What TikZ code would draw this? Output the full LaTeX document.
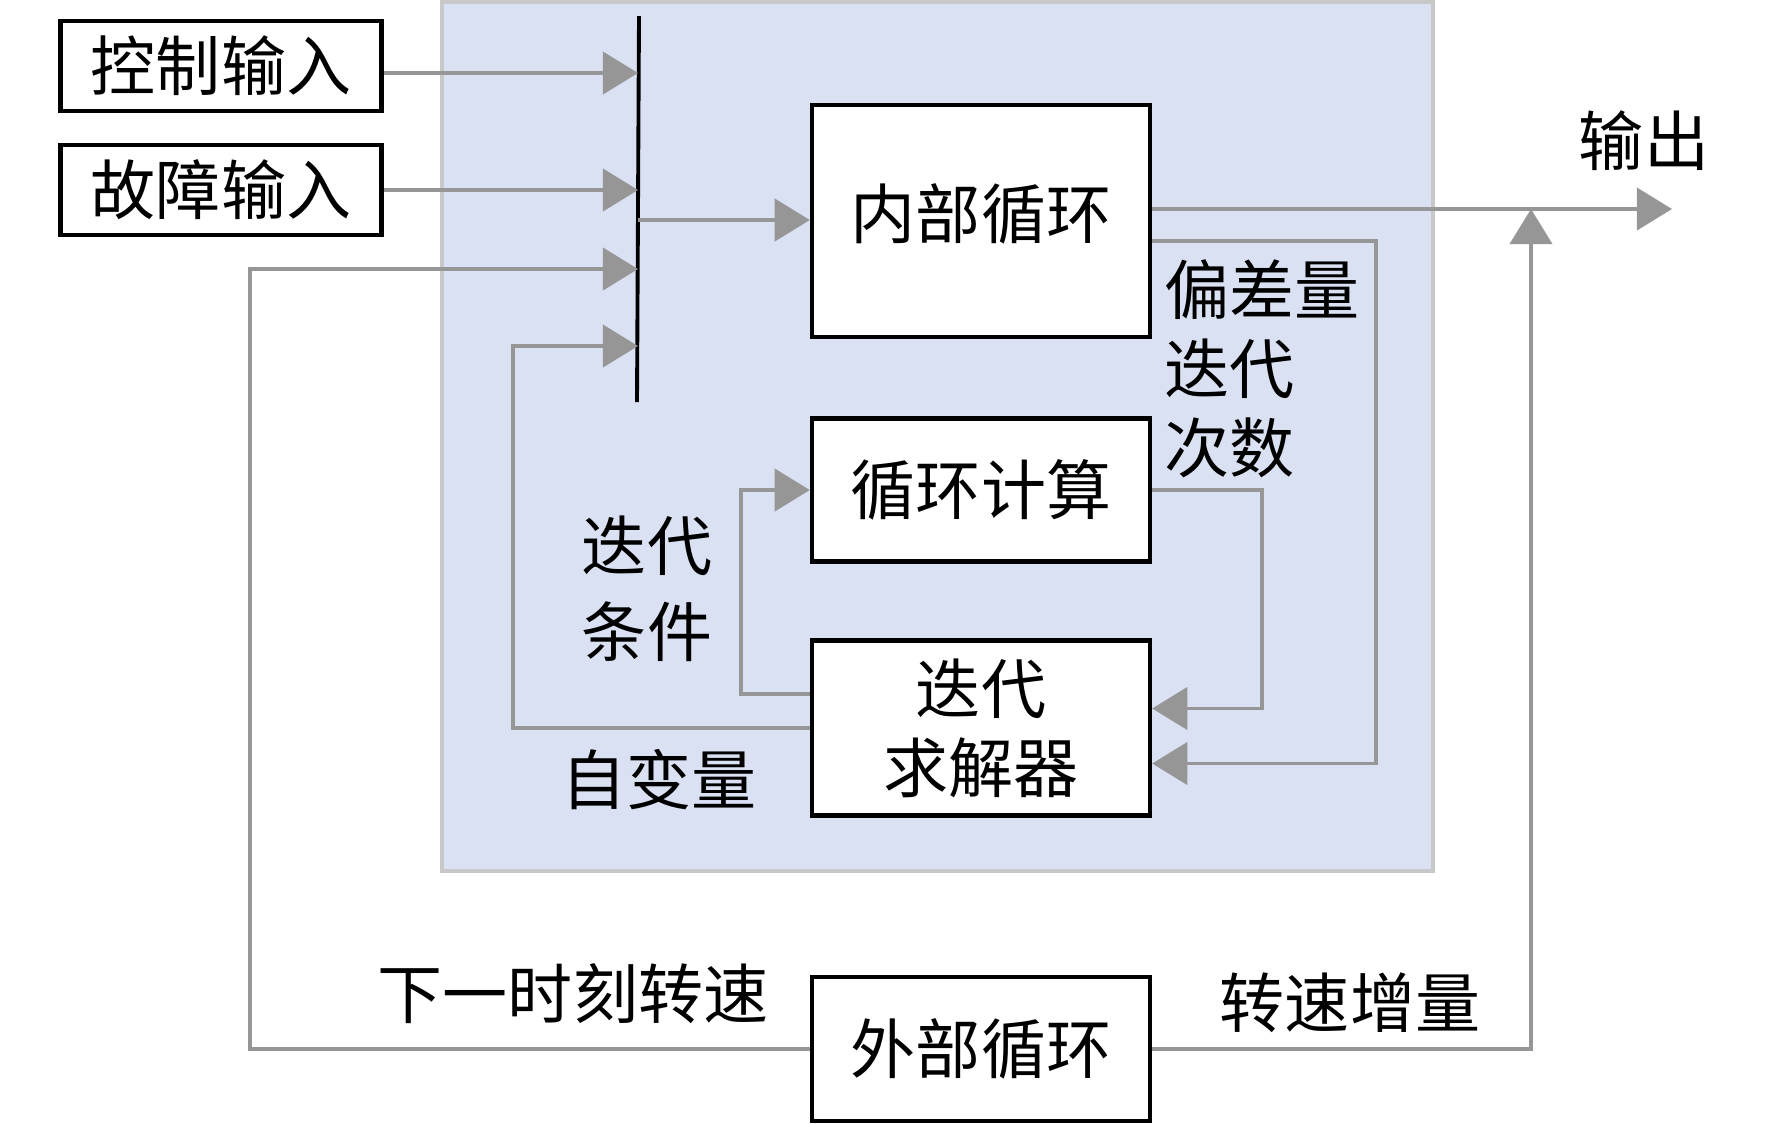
\documentclass[tikz,border=0pt]{standalone}
\usepackage{fontspec}
\usepackage{xcolor}
\newfontfamily\cjkfont{Noto Sans CJK SC}
\definecolor{panelblue}{RGB}{218,225,242}
\definecolor{panelgray}{RGB}{200,200,200}
\definecolor{linegray}{RGB}{150,150,150}
\usetikzlibrary{arrows.meta}

\begin{document}
\begin{tikzpicture}
  [x=0.01cm,y=-0.01cm,
   every node/.style={font=\cjkfont\fontsize{18.5}{22.5}\selectfont,inner sep=0pt},
   box/.style={draw,line width=1.2pt,fill=white,minimum width=3.38cm,align=center},
   inbox/.style={draw,line width=1.2pt,fill=white,minimum width=3.21cm,minimum height=0.9cm},
   arr/.style={draw=linegray,line width=1.1pt,-{Triangle[length=10pt,width=12pt]}},
   wire/.style={draw=linegray,line width=1.1pt}]
  \useasboundingbox (0,0) rectangle (1772,1123);
  \draw[panelgray,fill=panelblue,line width=0.9pt] (442,2) rectangle (1433,871);

  % inputs and blocks
  \node (ctrl)   at (221,66)   [inbox] {控制输入};
  \node (fault)  at (221,190)  [inbox] {故障输入};
  \node (inner)  at (981,221)  [box,minimum height=2.32cm,text depth=0.2cm] {内部循环};
  \node (calc)   at (981,490)  [box,minimum height=1.43cm] {循环计算};
  \node (solver) at (981,728)  [box,minimum height=1.75cm] {迭代\\求解器};
  \node (outer)  at (981,1049) [box,minimum height=1.44cm] {外部循环};

  % bus bar
  \coordinate (bt) at (639,16);
  \coordinate (bb) at (637,402);
  \coordinate (b1) at (638,73);
  \coordinate (b2) at (638,190);
  \coordinate (b0) at (638,220);
  \coordinate (b3) at (638,269);
  \coordinate (b4) at (638,346);
  \draw[line width=1.1pt] (bt) -- (bb);

  % turning points
  \coordinate (xl) at (250,0);
  \coordinate (xm) at (513,0);
  \coordinate (xn) at (741,0);
  \coordinate (xr) at (1262,0);
  \coordinate (xs) at (1376,0);
  \coordinate (jn) at (1531,209);
  \coordinate (out) at (1672,209);

  % labels
  \node (lout)  at (1644,141) {输出};
  \node (ldev)  at (1164,369) [anchor=west,align=left] {偏差量\\迭代\\次数};
  \node (lcond) at (647,589)  [align=center] {迭代\\[2pt]条件};
  \node (lvar)  at (659,780)  {自变量};
  \node (lnext) at (573,994)  {下一时刻转速};
  \node (linc)  at (1350,1003) {转速增量};

  \foreach \from/\to in {ctrl/b1,fault/b2}
    \draw[arr] (\from.east |- \to) -- (\to);
  \draw[arr] (b0) -- (inner.west |- b0);
  \draw[arr] ([yshift=0.12cm]inner.east) -- (out);
  \draw[arr] (outer.east) -| (jn);
  \draw[arr] (outer.west) -| (xl |- b3) -- (b3);
  \draw[arr] (solver.west) -| (xm |- b4) -- (b4);
  \draw[arr] ([yshift=0.34cm]solver.west) -| (xn |- calc.west) -- (calc.west);
  \draw[arr] (calc.east) -- (calc.east -| xr) |- ([yshift=0.195cm]solver.east);
  \draw[arr] ([yshift=-0.2cm]inner.east) -- ([yshift=-0.2cm]inner.east -| xs) |- ([yshift=-0.355cm]solver.east);
\end{tikzpicture}
\end{document}
